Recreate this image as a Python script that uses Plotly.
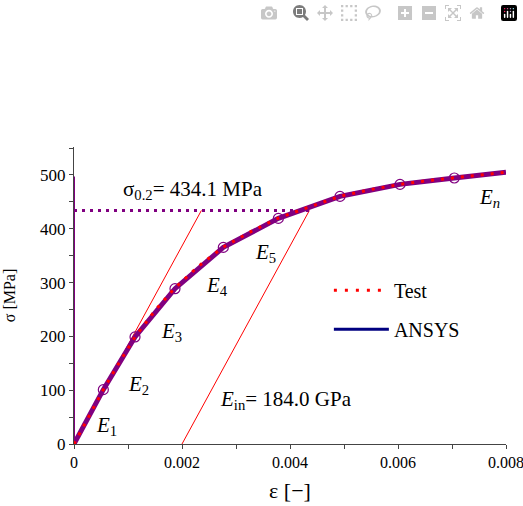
import plotly.graph_objects as go

# ANSYS multilinear curve (strain [-], stress [MPa])
ansys_eps = [0.0, 0.000543, 0.00113, 0.00187, 0.002765, 0.003784, 0.004926, 0.006037, 0.007043, 0.008]
ansys_sig = [0.0, 101.0, 199.0, 288.6, 365.4, 419.3, 460.2, 482.5, 494.4, 505.0]

# Test curve
test_eps = [0.0, 0.0003, 0.000543, 0.0008, 0.00113, 0.0015, 0.00187, 0.0023, 0.002765, 0.0033, 0.003784, 0.0044, 0.004926, 0.0055, 0.006037, 0.0065, 0.007043, 0.0075, 0.008]
test_sig = [0.0, 56.0, 101.0, 145.0, 199.0, 248.0, 290.0, 330.0, 366.0, 396.0, 420.0, 442.0, 460.5, 473.0, 482.5, 489.0, 494.5, 500.0, 505.0]

# Offset method
E_in = 184000.0  # MPa
sigma02 = 434.1
offset = 0.002
eps_ortho_end = sigma02 / E_in
eps_offset_end = offset + sigma02 / E_in
sig_vert_top = 497.0
eps_sig02_end = 0.0044

# tick labels
x_ticks = [0, 0.002, 0.004, 0.006, 0.008]
x_ticktext = ["0", "0.002", "0.004", "0.006", "0.008"]
y_ticks = [0, 100, 200, 300, 400, 500]

# segment labels
lab_text = ["<i>E</i><sub>1</sub>", "<i>E</i><sub>2</sub>", "<i>E</i><sub>3</sub>",
            "<i>E</i><sub>4</sub>", "<i>E</i><sub>5</sub>", "<i>E<sub>n</sub></i>"]
lab_eps = [0.000605, 0.00119, 0.00181, 0.00264, 0.00354, 0.0077]
lab_sig = [33, 110, 209, 293, 355, 457]

font = "Liberation Serif"
fig = go.Figure()

# elastic line from origin and offset line
fig.add_trace(go.Scatter(x=[0, eps_ortho_end], y=[0, sigma02], mode="lines",
                         line=dict(color="red", width=1), showlegend=False))
fig.add_trace(go.Scatter(x=[offset, eps_offset_end], y=[0, sigma02], mode="lines",
                         line=dict(color="red", width=1), showlegend=False))
# sigma 0.2 dotted line
fig.add_trace(go.Scatter(x=[0, eps_sig02_end], y=[sigma02, sigma02], mode="lines",
                         line=dict(color="purple", width=3, dash="3px,5px"), showlegend=False))
# vertical purple line at zero strain
fig.add_trace(go.Scatter(x=[0, 0], y=[0, sig_vert_top], mode="lines",
                         line=dict(color="purple", width=2), showlegend=False, cliponaxis=False))
# ANSYS curve
fig.add_trace(go.Scatter(x=ansys_eps, y=ansys_sig, mode="lines",
                         line=dict(color="purple", width=5), showlegend=False))
fig.add_trace(go.Scatter(x=ansys_eps[1:-1], y=ansys_sig[1:-1], mode="markers",
                         marker=dict(symbol="circle-open", size=10, color="purple", line=dict(width=1.2)),
                         showlegend=False))
# Test curve
fig.add_trace(go.Scatter(x=test_eps, y=test_sig, mode="lines",
                         line=dict(color="red", width=3, dash="3px,7px"), showlegend=False))

# legend entries
fig.add_trace(go.Scatter(x=[None], y=[None], mode="lines", name="Test", legendgroup="a",
                         line=dict(color="red", width=3, dash="3px,8px")))
fig.add_trace(go.Scatter(x=[None], y=[None], mode="lines", name="ANSYS", legendgroup="b",
                         line=dict(color="navy", width=3)))

annots = []
for t, xe, ys in zip(lab_text, lab_eps, lab_sig):
    annots.append(dict(x=xe, y=ys, text=t, showarrow=False, xref="x", yref="y",
                       font=dict(family=font, size=21, color="black")))
annots.append(dict(x=0.0022, y=472, text="σ<sub>0.2</sub>= 434.1 MPa", showarrow=False,
                   xref="x", yref="y", font=dict(family=font, size=21, color="black")))
annots.append(dict(x=0.00392, y=82, text="<i>E</i><sub>in</sub>= 184.0 GPa", showarrow=False,
                   xref="x", yref="y", font=dict(family=font, size=21, color="black")))

fig.update_layout(
    width=523, height=506,
    margin=dict(l=74, r=17, t=147, b=62),
    plot_bgcolor="white", paper_bgcolor="white",
    font=dict(family=font, size=16, color="black"),
    annotations=annots,
    legend=dict(x=0.59, y=0.583, xanchor="left", yanchor="top", bgcolor="rgba(0,0,0,0)",
                font=dict(family=font, size=20), tracegroupgap=10, itemwidth=55),
    xaxis=dict(range=[-1e-9, 0.008 + 1e-9], tickvals=x_ticks, ticktext=x_ticktext,
               automargin=False, ticklabeloverflow="allow",
               tickfont=dict(family=font, size=16),
               showgrid=False, zeroline=False, showline=True, linecolor="#444", linewidth=1,
               ticks="outside", ticklen=4, tickcolor="#444",
               minor=dict(dtick=0.001, ticks="outside", ticklen=4, tickcolor="#444"),
               title=dict(text="ε [−]", font=dict(family=font, size=22), standoff=12)),
    yaxis=dict(range=[0, 552], tickvals=y_ticks,
               automargin=False, ticklabeloverflow="allow",
               tickfont=dict(family=font, size=17),
               showgrid=False, zeroline=False, showline=True, linecolor="#444", linewidth=1,
               ticks="outside", ticklen=4, tickcolor="#444",
               minor=dict(dtick=50, ticks="outside", ticklen=4, tickcolor="#444"),
               title=dict(text="σ [MPa]", font=dict(family=font, size=16), standoff=20)),
)

post_js = (
    "document.documentElement.style.overflow='hidden';"
    "document.body.style.margin='0';"
    "document.body.style.overflow='hidden';"
)
fig.write_html("out.html", post_script=post_js)
